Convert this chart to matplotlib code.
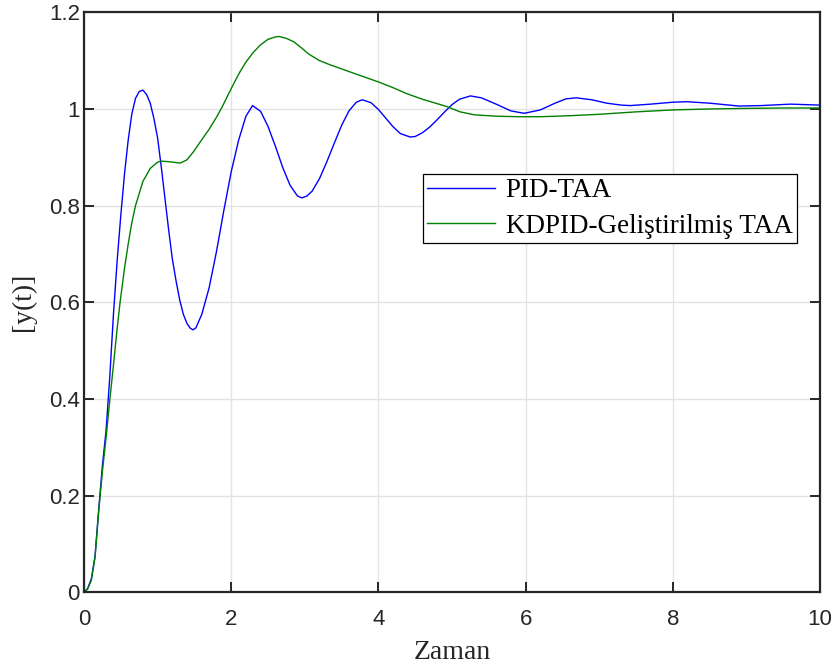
import matplotlib
matplotlib.use("Agg")
import matplotlib.pyplot as plt

# Step response samples: time [s] and output y(t)
t_pid = [0.0, 0.05, 0.10, 0.15, 0.20, 0.25, 0.30, 0.35, 0.40, 0.45, 0.50, 0.55,
         0.60, 0.65, 0.70, 0.75, 0.80, 0.85, 0.90, 0.95, 1.00, 1.05, 1.10, 1.15,
         1.20, 1.25, 1.30, 1.35, 1.40, 1.44, 1.48, 1.52, 1.60, 1.70, 1.80, 1.90,
         2.00, 2.10, 2.20, 2.29, 2.40, 2.50, 2.60, 2.70, 2.80, 2.90, 2.96, 3.03,
         3.10, 3.20, 3.30, 3.40, 3.50, 3.60, 3.70, 3.78, 3.90, 4.00, 4.10, 4.20,
         4.30, 4.43, 4.50, 4.60, 4.70, 4.80, 4.90, 5.00, 5.10, 5.25, 5.40, 5.60,
         5.80, 5.98, 6.20, 6.40, 6.55, 6.69, 6.90, 7.10, 7.30, 7.42, 7.70, 8.00,
         8.19, 8.50, 8.90, 9.20, 9.60, 10.0]
y_pid = [0.0, 0.008, 0.028, 0.075, 0.172, 0.262, 0.335, 0.445, 0.575, 0.685,
         0.780, 0.865, 0.935, 0.990, 1.022, 1.036, 1.039, 1.030, 1.012, 0.980,
         0.940, 0.880, 0.815, 0.750, 0.690, 0.645, 0.605, 0.575, 0.556, 0.547,
         0.543, 0.547, 0.575, 0.630, 0.705, 0.790, 0.870, 0.935, 0.985, 1.007,
         0.995, 0.964, 0.923, 0.879, 0.842, 0.820, 0.816, 0.820, 0.830, 0.856,
         0.891, 0.929, 0.966, 0.996, 1.014, 1.019, 1.013, 0.999, 0.981, 0.963,
         0.949, 0.942, 0.943, 0.951, 0.963, 0.978, 0.994, 1.009, 1.020, 1.027,
         1.023, 1.010, 0.996, 0.991, 0.998, 1.012, 1.021, 1.023, 1.019, 1.012,
         1.008, 1.007, 1.010, 1.014, 1.015, 1.012, 1.006, 1.007, 1.010, 1.008]

t_kdpid = [0.0, 0.05, 0.10, 0.15, 0.20, 0.25, 0.30, 0.35, 0.40, 0.45, 0.49, 0.55,
           0.60, 0.65, 0.70, 0.80, 0.90, 1.00, 1.05, 1.15, 1.31, 1.40, 1.49,
           1.63, 1.70, 1.80, 1.88, 1.96, 2.06, 2.12, 2.20, 2.30, 2.40, 2.50,
           2.60, 2.65, 2.75, 2.85, 2.95, 3.05, 3.20, 3.35, 3.48, 3.70, 4.00,
           4.20, 4.38, 4.60, 4.93, 5.11, 5.30, 5.60, 5.90, 6.20, 6.60, 7.00,
           7.50, 8.00, 8.50, 8.90, 9.50, 10.0]
y_kdpid = [0.0, 0.007, 0.025, 0.072, 0.168, 0.250, 0.320, 0.397, 0.470, 0.545,
           0.600, 0.670, 0.720, 0.765, 0.800, 0.850, 0.877, 0.890, 0.892, 0.891,
           0.888, 0.895, 0.912, 0.943, 0.958, 0.983, 1.005, 1.030, 1.060, 1.077,
           1.097, 1.117, 1.133, 1.144, 1.149, 1.150, 1.146, 1.139, 1.127, 1.114,
           1.100, 1.091, 1.084, 1.072, 1.056, 1.044, 1.032, 1.020, 1.005, 0.994,
           0.988, 0.985, 0.984, 0.984, 0.986, 0.989, 0.994, 0.998, 1.000, 1.001,
           1.002, 1.002]

x_ticks = [0, 2, 4, 6, 8, 10]
y_ticks = [0, 0.2, 0.4, 0.6, 0.8, 1.0, 1.2]
y_ticklabels = ["0", "0.2", "0.4", "0.6", "0.8", "1", "1.2"]

W, H = 837, 666
fig = plt.figure(figsize=(W / 100, H / 100), dpi=100)
ax = fig.add_axes([84 / W, (H - 592.3) / H, 736 / W, 580 / H])

ax.plot(t_pid, y_pid, color="#0000ff", lw=1.0, label="PID-TAA")
ax.plot(t_kdpid, y_kdpid, color="#007f00", lw=1.0, label="KDPID-Geliştirilmiş TAA")

ax.set_xlim(0, 10)
ax.set_ylim(0, 1.2)
ax.set_xticks(x_ticks)
ax.set_xticklabels([str(v) for v in x_ticks])
ax.set_yticks(y_ticks)
ax.set_yticklabels(y_ticklabels)

ax.grid(True, color="#e3e3e3", lw=1.0)
ax.set_axisbelow(True)

for s in ax.spines.values():
    s.set_color("#262626")
    s.set_linewidth(1.6)

ax.tick_params(direction="in", length=7, width=1.4, colors="#262626",
               top=True, right=True, labelsize=16)
ax.tick_params(axis="x", pad=12)
ax.tick_params(axis="y", pad=3)
for lab in ax.get_xticklabels() + ax.get_yticklabels():
    lab.set_fontfamily("Liberation Sans")

ax.set_xlabel("Zaman", fontfamily="Liberation Serif", fontsize=20,
              color="#262626", labelpad=7)
ax.set_ylabel("[y(t)]", fontfamily="Liberation Serif", fontsize=20,
              color="#262626", labelpad=9)

leg = ax.legend(loc="upper left", bbox_to_anchor=((423 - 84) / 736, (592.3 - 174) / 580),
                prop={"family": "Liberation Serif", "size": 19.5},
                frameon=True, fancybox=False, shadow=False, framealpha=1,
                edgecolor="black", borderaxespad=0, borderpad=0.15,
                handlelength=2.5, handletextpad=0.4, labelspacing=0.4)
leg.get_frame().set_linewidth(0.9)

fig.savefig("out.png", dpi=100)
